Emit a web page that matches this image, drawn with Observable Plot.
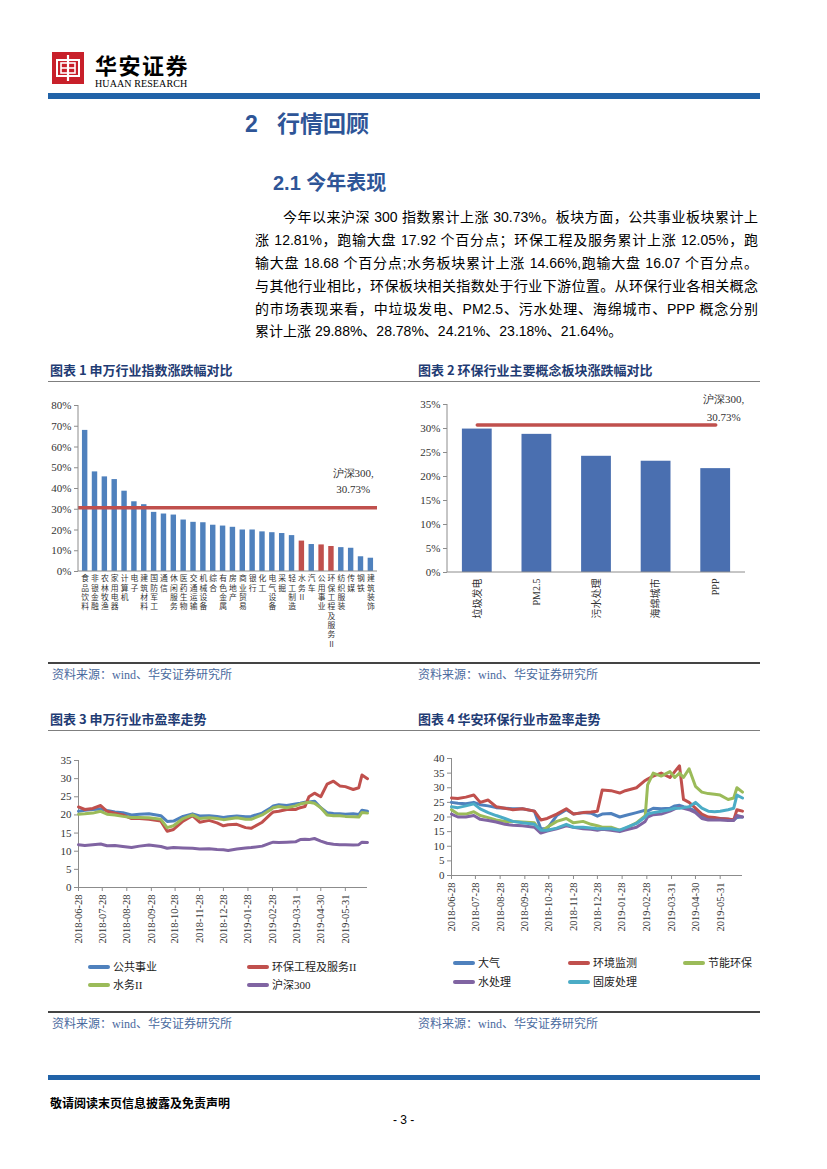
<!DOCTYPE html>
<html><head><meta charset="utf-8">
<script src="https://cdn.jsdelivr.net/npm/d3@7"></script>
<script src="https://cdn.jsdelivr.net/npm/@observablehq/plot@0.6"></script>
<style>
body{margin:0;background:#fff;}
#page{position:relative;width:827px;height:1169px;overflow:hidden;font-family:"Liberation Sans","Noto Sans CJK SC",sans-serif;color:#000;}
.abs{position:absolute;}
.bar{position:absolute;background:#2163A8;}
.h1{position:absolute;font-family:"Liberation Sans","Noto Sans CJK SC";font-weight:700;color:#2E5597;white-space:nowrap;}
.para{position:absolute;left:255px;width:503px;font-size:14px;line-height:20px;white-space:nowrap;}
.para div{position:absolute;left:0;width:503px;text-align:justify;text-align-last:justify;}
.figt{position:absolute;font-family:"Noto Sans CJK SC";font-weight:700;font-size:13px;color:#1F3C74;white-space:nowrap;line-height:16px;}
.rule{position:absolute;height:0;}
.src{position:absolute;font-family:"Liberation Serif","Noto Sans CJK SC";font-size:12px;color:#4A6A9E;white-space:nowrap;line-height:14px;}
.leg{position:absolute;font-family:"Liberation Serif","Noto Sans CJK SC";font-size:11px;color:#222;white-space:nowrap;line-height:14px;}
.sw{position:absolute;height:4px;border-radius:2px;}
</style></head>
<body><div id="page">
<!-- header -->
<svg class="abs" style="left:52px;top:52px" width="32" height="32" viewBox="0 0 32 32">
  <rect x="0" y="0" width="32" height="32" fill="#C8202A"/>
  <rect x="5" y="8" width="22" height="16" fill="none" stroke="#fff" stroke-width="2"/>
  <rect x="9" y="11" width="14" height="10" fill="none" stroke="#fff" stroke-width="1.6"/>
  <line x1="16" y1="3" x2="16" y2="29" stroke="#fff" stroke-width="2.2"/>
  <line x1="9" y1="16" x2="23" y2="16" stroke="#fff" stroke-width="1.6"/>
</svg>
<div class="abs" style="left:95px;top:50px;font-family:'Noto Sans CJK SC';font-weight:700;font-size:22px;letter-spacing:1.5px;line-height:28px;">华安证券</div>
<div class="abs" style="left:95px;top:78px;font-family:'Liberation Serif';font-size:10px;letter-spacing:0.1px;line-height:11px;">HUAAN RESEARCH</div>
<div class="bar" style="left:48px;top:93px;width:712px;height:6px;"></div>

<div class="h1" style="left:245px;top:110px;font-size:23px;line-height:28px;">2&nbsp;&nbsp;&nbsp;行情回顾</div>
<div class="h1" style="left:273px;top:170px;font-size:20px;line-height:26px;">2.1 今年表现</div>

<div class="para" style="top:0">
<div style="top:207px;left:28px;width:475px;">今年以来沪深 300 指数累计上涨 30.73%。板块方面，公共事业板块累计上</div>
<div style="top:230px;">涨 12.81%，跑输大盘 17.92 个百分点；环保工程及服务累计上涨 12.05%，跑</div>
<div style="top:253px;">输大盘 18.68 个百分点;水务板块累计上涨 14.66%,跑输大盘 16.07 个百分点。</div>
<div style="top:276px;">与其他行业相比，环保板块相关指数处于行业下游位置。从环保行业各相关概念</div>
<div style="top:299px;">的市场表现来看，中垃圾发电、PM2.5、污水处理、海绵城市、PPP 概念分别</div>
<div style="top:321px;text-align-last:left;">累计上涨 29.88%、28.78%、24.21%、23.18%、21.64%。</div>
</div>

<div class="figt" style="left:50px;top:362px;">图表 1 申万行业指数涨跌幅对比</div>
<div class="figt" style="left:418px;top:362px;">图表 2 环保行业主要概念板块涨跌幅对比</div>
<div class="rule" style="left:48px;top:381px;width:712px;border-top:1.5px solid #7f7f7f;"></div>
<div id="c1" class="abs" style="left:40px;top:395px;"></div>
<div id="c2" class="abs" style="left:410px;top:395px;"></div>
<div class="rule" style="left:48px;top:662px;width:712px;border-top:2px solid #444;"></div>
<div class="src" style="left:52px;top:668px;">资料来源：wind、华安证券研究所</div>
<div class="src" style="left:418px;top:668px;">资料来源：wind、华安证券研究所</div>

<div class="figt" style="left:50px;top:711px;">图表 3 申万行业市盈率走势</div>
<div class="figt" style="left:418px;top:711px;">图表 4 华安环保行业市盈率走势</div>
<div class="rule" style="left:48px;top:730px;width:712px;border-top:1.5px solid #7f7f7f;"></div>
<div id="c3" class="abs" style="left:40px;top:745px;"></div>
<div id="c4" class="abs" style="left:410px;top:745px;"></div>
<div id="leg3"></div>
<div id="leg4"></div>
<div class="rule" style="left:48px;top:1011px;width:712px;border-top:2px solid #444;"></div>
<div class="src" style="left:52px;top:1017px;">资料来源：wind、华安证券研究所</div>
<div class="src" style="left:418px;top:1017px;">资料来源：wind、华安证券研究所</div>

<div class="bar" style="left:48px;top:1075px;width:712px;height:5px;"></div>
<div class="abs" style="left:50px;top:1095px;font-family:'Noto Sans CJK SC';font-weight:700;font-size:12px;line-height:16px;">敬请阅读末页信息披露及免责声明</div>
<div class="abs" style="left:393px;top:1113px;font-size:12px;line-height:14px;">- 3 -</div>
</div>

<script>
// ---------- data ----------
const industries = ["食品饮料","非银金融","农林牧渔","家用电器","计算机","电子","建筑材料","国防军工","通信","休闲服务","医药生物","交通运输","机械设备","综合","有色金属","房地产","商业贸易","银行","化工","电气设备","采掘","轻工制造","水务II","汽车","公用事业","环保工程及服务II","纺织服装","传媒","钢铁","建筑装饰"];
const industryChange = [68.0,48.0,45.6,44.3,38.7,33.6,32.2,28.5,27.7,27.2,24.8,23.7,23.5,22.3,21.9,21.3,20.0,20.0,19.1,18.7,18.3,17.3,14.66,13.0,12.81,12.05,11.5,11.2,7.1,6.4];
const highlighted = ["水务II","公用事业","环保工程及服务II"];
const hs300 = 30.73;
const hsLabel = "沪深300,\n30.73%";
const yTicks1 = [0,10,20,30,40,50,60,70,80];

const concepts = ["垃圾发电","PM2.5","污水处理","海绵城市","PPP"];
const conceptChange = [29.88,28.78,24.21,23.18,21.64];
const yTicks2 = [0,5,10,15,20,25,30,35];

const dates = ["2018-06-28","2018-07-06","2018-07-16","2018-07-26","2018-08-03","2018-08-13","2018-08-23","2018-09-03","2018-09-13","2018-09-25","2018-10-10","2018-10-18","2018-10-26","2018-11-07","2018-11-19","2018-11-28","2018-12-10","2018-12-20","2018-12-28","2019-01-03","2019-01-14","2019-01-25","2019-02-01","2019-02-15","2019-02-26","2019-03-01","2019-03-08","2019-03-18","2019-03-29","2019-04-04","2019-04-10","2019-04-15","2019-04-22","2019-04-30","2019-05-08","2019-05-16","2019-05-24","2019-05-31","2019-06-10","2019-06-17","2019-06-21","2019-06-28"];
const dateTicks = ["2018-06-28","2018-07-28","2018-08-28","2018-09-28","2018-10-28","2018-11-28","2018-12-28","2019-01-28","2019-02-28","2019-03-31","2019-04-30","2019-05-31"];

// chart 3 series
const peUtilities = [21.0,21.3,21.5,21.6,21.2,20.8,20.6,20.0,20.2,20.3,19.8,18.2,18.3,19.6,20.3,19.7,19.8,19.6,19.3,19.5,19.7,19.5,19.6,20.5,22.0,22.5,22.8,22.6,23.0,23.2,23.5,23.6,23.8,22.0,20.6,20.4,20.3,20.2,20.3,20.1,21.3,21.0];
const peEnvEng = [22.2,21.5,21.8,22.6,21.0,20.5,20.0,19.0,19.0,18.8,18.3,15.5,16.0,18.3,19.8,18.0,18.5,17.8,17.0,17.3,17.4,16.5,16.3,18.0,20.3,20.8,21.0,21.5,21.5,22.0,22.3,25.0,26.0,25.0,28.5,29.3,28.0,27.8,27.0,27.5,31.0,30.0];
const peWater = [20.2,20.3,20.5,21.0,20.2,20.0,19.6,19.3,19.3,19.2,18.8,16.5,17.0,19.0,20.0,19.0,19.2,19.0,18.7,18.9,19.2,18.8,18.8,20.0,21.5,22.0,22.3,22.0,22.5,23.0,23.3,23.5,23.2,22.0,20.0,19.8,19.8,19.6,19.5,19.4,20.7,20.5];
const peHs300 = [11.8,11.6,11.8,12.0,11.5,11.6,11.3,11.0,11.4,11.7,11.3,10.8,11.0,10.9,10.8,10.6,10.7,10.5,10.4,10.2,10.6,10.9,11.0,11.4,12.3,12.5,12.4,12.5,12.6,13.2,13.3,13.2,13.5,12.8,12.2,11.9,11.8,11.8,11.7,11.8,12.5,12.4];
const yTicks3 = [0,5,10,15,20,25,30,35];

// chart 4 series
const peAir = [25.0,24.7,24.5,25.0,24.2,23.8,23.2,23.0,22.8,22.8,22.0,16.0,16.0,20.5,22.5,21.0,21.5,21.3,20.3,21.0,21.2,20.0,20.5,21.5,22.3,22.0,23.0,22.8,23.0,23.8,24.0,23.5,23.0,22.0,20.0,19.5,19.5,19.5,19.2,19.0,19.8,20.0];
const peMonitor = [26.5,26.3,26.8,27.5,25.0,25.8,23.5,23.0,22.5,22.8,22.0,19.0,19.5,21.0,22.8,21.0,21.5,21.7,22.0,29.2,29.0,28.2,29.0,30.0,32.5,33.0,34.0,35.0,33.5,35.5,37.5,26.0,25.0,23.0,21.0,20.0,19.8,19.5,19.3,19.0,22.5,22.0];
const peEnergy = [22.5,21.0,21.0,21.8,20.5,19.8,19.0,18.5,18.5,18.3,18.0,15.0,16.5,18.5,19.5,18.0,18.5,17.5,17.0,16.5,16.5,15.5,16.0,18.0,20.5,31.0,35.0,34.0,35.5,33.5,35.0,33.5,36.5,30.5,28.5,28.0,27.8,27.5,26.0,26.5,30.0,28.5];
const peWaterTreat = [21.0,20.0,20.0,20.5,19.2,18.8,18.3,17.5,17.2,17.0,16.5,14.5,15.2,16.0,17.0,16.5,16.0,15.8,15.5,15.8,15.5,15.0,15.5,16.5,18.5,20.0,20.8,21.0,22.0,22.8,23.5,23.0,22.5,21.5,19.5,19.0,19.0,19.0,18.8,18.8,20.5,20.0];
const peSolidWaste = [23.5,23.2,23.8,24.5,22.8,21.5,20.5,19.5,18.5,18.0,17.5,15.5,15.5,16.2,17.5,16.5,16.5,16.2,16.0,16.0,16.0,15.5,16.3,17.8,20.0,21.0,21.5,22.0,22.5,23.0,23.0,23.2,23.5,25.0,23.0,22.0,21.8,22.0,22.5,23.0,27.5,26.5];
const yTicks4 = [0,5,10,15,20,25,30,35,40];

const series3Names = ["公共事业","环保工程及服务II","水务II","沪深300"];
const series4Names = ["大气","环境监测","节能环保","水处理","固废处理"];

// ---------- style ----------
const BLUE="#4F81BD", RED="#C0504D", GREEN="#9BBB59", PURPLE="#8064A2", CYAN="#4BACC6";
const BAR1="#4F81BD", BAR2="#4A6FB0", AXIS="#8c8c8c";
const parse = d3.utcParse("%Y-%m-%d");

function addLeftLine(chart, x){
  const [y0,y1] = chart.scale("y").range;
  d3.select(chart).append("line").attr("x1",x).attr("x2",x).attr("y1",y0).attr("y2",y1).attr("stroke",AXIS);
}
function addBottomLine(chart, x0, x1){
  const y = chart.scale("y").range[0];
  d3.select(chart).append("line").attr("x1",x0).attr("x2",x1).attr("y1",y).attr("y2",y).attr("stroke",AXIS);
}

// ---------- chart 1 ----------
const c1data = industries.map((name,i)=>({name, value: industryChange[i], hl: highlighted.includes(name)}));
const chart1 = Plot.plot({
  width: 345, height: 270, marginLeft: 38, marginTop: 10, marginRight: 8, marginBottom: 94,
  style: {fontFamily: "Liberation Serif", fontSize: "11px", color: "#333", overflow: "visible", background: "transparent"},
  x: {domain: industries, paddingInner: 0.45, paddingOuter: 0.4, round: false, axis: null},
  y: {domain: [0, 80], axis: null},
  marks: [
    Plot.axisY({ticks: yTicks1, tickFormat: d => d + "%", tickSize: 4, tickPadding: 3, label: null, stroke: AXIS, fontSize: 11}),
    Plot.barY(c1data, {x: "name", y: "value", fill: d => d.hl ? RED : BAR1}),
    Plot.ruleY([hs300], {stroke: RED, strokeWidth: 3.5}),
    Plot.text([hsLabel], {x: () => industries[27], y: () => 44.2, dx: 2, text: d => d, lineHeight: 1.5, fontSize: 11, fill: "#333"}),
    Plot.text(industries, {x: d => d, frameAnchor: "bottom", dy: 3, lineAnchor: "top", lineHeight: 1.2,
      text: d => d.match(/II|./g).join("\n"), fontFamily: "Noto Sans CJK SC", fontSize: 7.8, fill: "#333"})
  ]
});
document.getElementById("c1").append(chart1);
addLeftLine(chart1, 38);
addBottomLine(chart1, 38, 337);

// ---------- chart 2 ----------
const c2data = concepts.map((name,i)=>({name, value: conceptChange[i]}));
const chart2 = Plot.plot({
  width: 345, height: 265, marginLeft: 37, marginTop: 9, marginRight: 10, marginBottom: 88,
  style: {fontFamily: "Liberation Serif", fontSize: "11px", color: "#333", overflow: "visible", background: "transparent"},
  x: {domain: concepts, paddingInner: 0.5, paddingOuter: 0.25, round: false, axis: null},
  y: {domain: [0, 35], axis: null},
  marks: [
    Plot.axisY({ticks: yTicks2, tickFormat: d => d + "%", tickSize: 4, tickPadding: 3, label: null, stroke: AXIS, fontSize: 11}),
    Plot.barY(c2data, {x: "name", y: "value", fill: BAR2}),
    Plot.line(concepts, {x: d => d, y: () => hs300, stroke: RED, strokeWidth: 3.5}),
    Plot.text([hsLabel], {x: () => concepts[4], y: () => 34.6, dx: 8, text: d => d, lineHeight: 1.6, fontSize: 11, fill: "#333"}),
    Plot.axisX({tickRotate: -90, tickSize: 0, tickPadding: 6, label: null, fontSize: 10,
      fontFamily: "Liberation Serif, Noto Sans CJK SC", fill: "#333"})
  ]
});
document.getElementById("c2").append(chart2);
addLeftLine(chart2, 37);
addBottomLine(chart2, 37, 335);

// ---------- line charts ----------
function lineChart(seriesList, names, colors, yTicks, yMax, opts){
  const x0 = parse(dates[0]), x1 = parse(dates[dates.length-1]);
  return Plot.plot({
    ...opts,
    style: {fontFamily: "Liberation Serif", fontSize: "11px", color: "#333", overflow: "visible", background: "transparent"},
    x: {type: "utc", domain: [x0, x1], axis: null},
    y: {domain: [0, yMax], axis: null},
    marks: [
      Plot.ruleX([x0], {stroke: AXIS}),
      Plot.ruleY([0], {stroke: AXIS}),
      Plot.axisY({ticks: yTicks, tickSize: 4, tickPadding: 3, label: null, stroke: AXIS, fontSize: 11}),
      Plot.axisX({ticks: dateTicks.map(parse), tickFormat: d3.utcFormat("%Y-%m-%d"), tickRotate: -90,
        tickSize: 4, tickPadding: 3, label: null, stroke: AXIS, fontSize: 10.5}),
      ...seriesList.map((vals, k) => Plot.line(dates.map((d,i)=>({date: parse(d), v: vals[i], name: names[k]})),
        {x: "date", y: "v", stroke: colors[k], strokeWidth: 3, strokeLinejoin: "round", strokeLinecap: "round"}))
    ]
  });
}
const colors3 = [BLUE, RED, GREEN, PURPLE];
const chart3 = lineChart([peUtilities, peEnvEng, peWater, peHs300], series3Names, colors3, yTicks3, 35,
  {width: 337, height: 205, marginLeft: 38, marginTop: 15, marginRight: 10, marginBottom: 63});
document.getElementById("c3").append(chart3);

const colors4 = [BLUE, RED, GREEN, PURPLE, CYAN];
const chart4 = lineChart([peAir, peMonitor, peEnergy, peWaterTreat, peSolidWaste], series4Names, colors4, yTicks4, 40,
  {width: 342, height: 195, marginLeft: 41, marginTop: 13, marginRight: 10, marginBottom: 65});
document.getElementById("c4").append(chart4);

// ---------- legends ----------
function legend(id, names, colors, cols, rows, swW){
  const el = document.getElementById(id);
  names.forEach((n,i)=>{
    const c = cols[i % cols.length], r = rows[Math.floor(i / cols.length)];
    const sw = document.createElement("div");
    sw.className = "sw"; sw.style.left = c + "px"; sw.style.top = (r - 2) + "px"; sw.style.width = swW + "px"; sw.style.background = colors[i];
    const t = document.createElement("div");
    t.className = "leg"; t.style.left = (c + swW + 3) + "px"; t.style.top = (r - 7) + "px"; t.textContent = n;
    el.append(sw, t);
  });
}
legend("leg3", series3Names, colors3, [88, 247], [967, 985], 22);
legend("leg4", series4Names, colors4, [453, 568, 683], [963, 982], 22);
</script>
</body></html>
